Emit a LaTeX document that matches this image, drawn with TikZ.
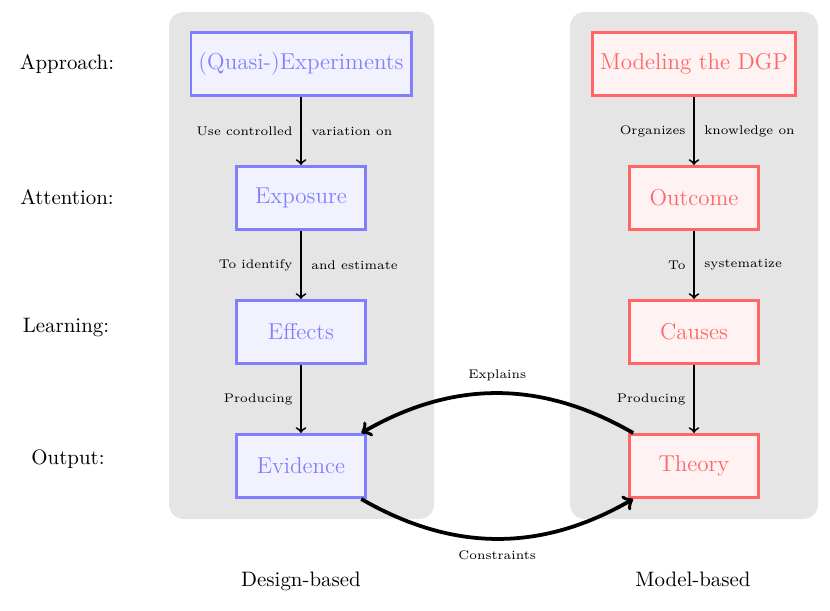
\documentclass[tikz,border=0pt]{standalone}
\begin{document}
\begin{tikzpicture}[x=0.4785pt,y=-0.4785pt,
  panel/.style={fill=black!10, draw=none, rounded corners=7pt},
  boxbase/.style={line width=1.4pt, font=\fontsize{11}{13}\selectfont, minimum height=30.2pt, inner sep=0pt},
  bluebox/.style={boxbase, draw=blue!50, fill=blue!5, text=blue!50},
  redbox/.style={boxbase, draw=red!60, fill=red!5, text=red!60},
  rowlab/.style={font=\normalsize},
  lab/.style={font=\fontsize{6}{7}\selectfont, inner sep=0pt},
  flow/.style={->, line width=0.9pt},
  bigarrow/.style={->, line width=1.8pt}
]
\useasboundingbox (0,0) rectangle (830,611);
\fill[panel] (169,12) rectangle (434,519);
\fill[panel] (570,12) rectangle (818,519);

% row labels
\node[rowlab] (rA) at (67,64) {Approach:};
\node[rowlab] (rB) at (67,197) {Attention:};
\node[rowlab] (rC) at (66,328) {Learning:};
\node[rowlab] (rD) at (68,459) {Output:};

% left column
\node[bluebox, minimum width=105.3pt] (qe) at (301,64) {(Quasi-)Experiments};
\node[bluebox, minimum width=61.3pt] (ex) at (301,198) {Exposure};
\node[bluebox, minimum width=61.3pt] (ef) at (301,332) {Effects};
\node[bluebox, minimum width=61.3pt] (ev) at (301,466) {Evidence};

% right column
\node[redbox, minimum width=97.2pt] (dgp) at (694,64) {Modeling the DGP};
\node[redbox, minimum width=61.8pt] (oc) at (694,198) {Outcome};
\node[redbox, minimum width=61.8pt] (ca) at (694,332) {Causes};
\node[redbox, minimum width=61.8pt] (th) at (694,466) {Theory};

% left arrows
\draw[flow] (qe) -- node[lab, left=3.6pt] {Use controlled} node[lab, right=4.5pt] {variation on} (ex);
\draw[flow] (ex) -- node[lab, left=3.6pt] {To identify} node[lab, right=4.5pt] {and estimate} (ef);
\draw[flow] (ef) -- node[lab, left=3.6pt] {Producing} (ev);

% right arrows
\draw[flow] (dgp) -- node[lab, left=3.6pt] {Organizes} node[lab, right=4.5pt] {knowledge on} (oc);
\draw[flow] (oc) -- node[lab, left=3.6pt] {To} node[lab, right=4.5pt] {systematize} (ca);
\draw[flow] (ca) -- node[lab, left=3.6pt] {Producing} (th);

% curved arrows
\draw[bigarrow] ([xshift=2.5pt]th.north west) to[bend right=30] node[lab, above=5pt] {Explains} ([xshift=-2.5pt]ev.north east);
\draw[bigarrow] ([xshift=-2.5pt]ev.south east) to[bend right=30] node[lab, below=5pt] {Constraints} ([xshift=2.5pt]th.south west);

% bottom labels
\node[rowlab, anchor=base] (dl) at (301,586) {Design-based};
\node[rowlab, anchor=base] (ml) at (693,586) {Model-based};
\end{tikzpicture}
\end{document}
